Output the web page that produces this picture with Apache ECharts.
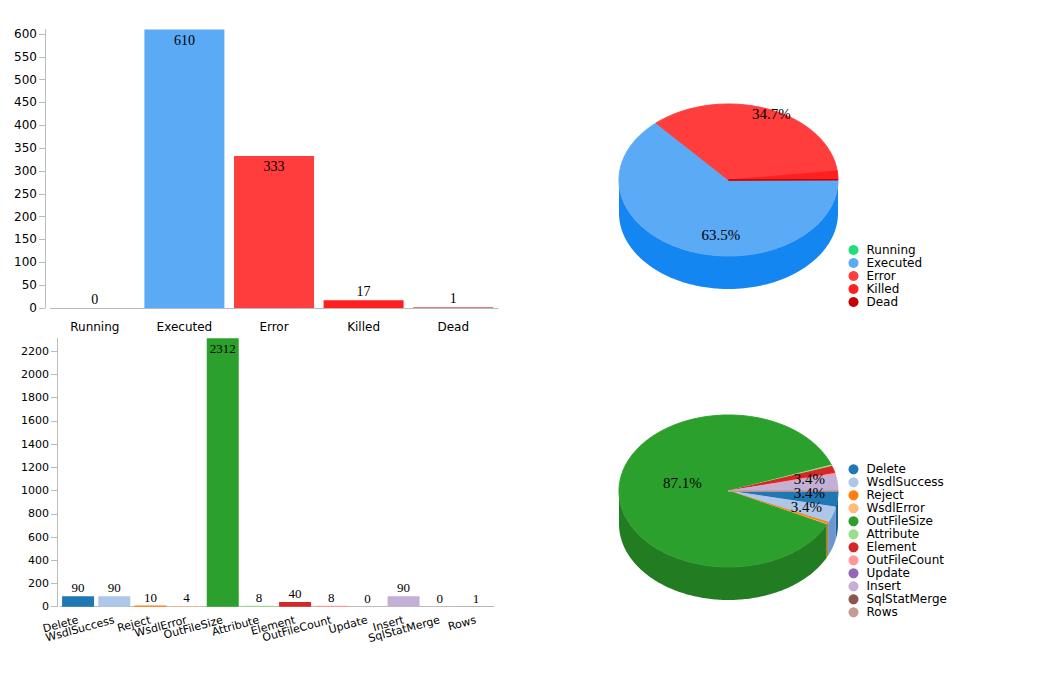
<!DOCTYPE html>
<html>
<head>
<meta charset="utf-8">
<title>Status</title>
<script src="https://cdn.jsdelivr.net/npm/echarts@6/dist/echarts.min.js"></script>
<style>
html, body { margin: 0; padding: 0; background: #fff; }
#main { width: 1048px; height: 675px; }
</style>
</head>
<body>
<div id="main"></div>
<script>
// job states
var statusNames = ['Running', 'Executed', 'Error', 'Killed', 'Dead'];
var statusValues = [0, 610, 333, 17, 1];
var statusColors = ['#1ee07a', '#5aaaf5', '#ff3d3d', '#ff1f1f', '#c40000'];

// check types
var checkNames = ['Delete', 'WsdlSuccess', 'Reject', 'WsdlError', 'OutFileSize', 'Attribute', 'Element', 'OutFileCount', 'Update', 'Insert', 'SqlStatMerge', 'Rows'];
var checkValues = [90, 90, 10, 4, 2312, 8, 40, 8, 0, 90, 0, 1];
var checkColors = ['#1f77b4', '#aec7e8', '#ff7f0e', '#ffbb78', '#2ca02c', '#98df8a', '#d62728', '#ff9896', '#9467bd', '#c5b0d5', '#8c564b', '#c49c94'];

var axisGray = '#bbb';
var sansFont = '"DejaVu Sans", Verdana, sans-serif';
var serifFont = '"Liberation Serif", "Times New Roman", serif';

/* same as d3.hsl(c).darker(k) */
function darker(hex, k) {
	var r = parseInt(hex.substr(1, 2), 16) / 255,
		g = parseInt(hex.substr(3, 2), 16) / 255,
		b = parseInt(hex.substr(5, 2), 16) / 255;
	var max = Math.max(r, g, b), min = Math.min(r, g, b), d = max - min;
	var h = 0, s = 0, l = (max + min) / 2;
	if (d) {
		s = l < 0.5 ? d / (max + min) : d / (2 - max - min);
		if (max === r) h = (g - b) / d + (g < b ? 6 : 0);
		else if (max === g) h = (b - r) / d + 2;
		else h = (r - g) / d + 4;
		h *= 60;
	}
	l *= Math.pow(0.7, k);
	var m2 = l <= 0.5 ? l * (1 + s) : l + s - l * s, m1 = 2 * l - m2;
	function v(hh) {
		hh = ((hh % 360) + 360) % 360;
		var c = hh < 60 ? m1 + (m2 - m1) * hh / 60 : hh < 180 ? m2 : hh < 240 ? m1 + (m2 - m1) * (240 - hh) / 60 : m1;
		return Math.round(c * 255);
	}
	return 'rgb(' + v(h + 120) + ',' + v(h) + ',' + v(h - 120) + ')';
}

/* value -> [value, startAngle, endAngle], angles from 3 o'clock, clockwise */
function pieLayout(values) {
	var total = values.reduce(function (a, b) { return a + b; }, 0), a = 0;
	return values.map(function (v) {
		var s = a;
		a += v / total * Math.PI * 2;
		return [v, s, a];
	});
}

function arcPoints(p, a0, a1, dy) {
	var n = Math.max(2, Math.ceil(Math.abs(a1 - a0) / (Math.PI / 180)) + 1), pts = [];
	for (var k = 0; k < n; k++) {
		var a = a0 + (a1 - a0) * k / (n - 1);
		pts.push([p.cx + p.rx * Math.cos(a), p.cy + p.ry * Math.sin(a) + dy]);
	}
	return pts;
}

/* 3d pie, drawn like Donut3D: outer wall, top, label, plus legend row */
function pie3d(p, names, colors) {
	return function (params, api) {
		var i = params.dataIndex;
		var s = api.value(1), e = api.value(2);
		var children = [];
		var ws = Math.min(s, Math.PI), we = Math.min(e, Math.PI);
		if (we > ws) {
			children.push({
				type: 'polygon', z2: 1,
				shape: { points: arcPoints(p, ws, we, 0).concat(arcPoints(p, we, ws, p.h)) },
				style: { fill: darker(colors[i], 0.7) }
			});
		}
		if (e > s) {
			children.push({
				type: 'polygon', z2: 10,
				shape: { points: [[p.cx, p.cy]].concat(arcPoints(p, s, e, 0)) },
				style: { fill: colors[i], stroke: colors[i], lineWidth: 1 }
			});
		}
		if (e - s > 0.2) {
			var mid = (s + e) / 2;
			children.push({
				type: 'text', z2: 20,
				x: p.cx + 0.6 * p.rx * Math.cos(mid),
				y: p.cy + 0.6 * p.rx * Math.sin(mid) - 4.5,
				style: {
					text: Math.round(1000 * (e - s) / (Math.PI * 2)) / 10 + '%',
					fill: '#000', font: '15px ' + serifFont,
					align: 'left', verticalAlign: 'middle'
				}
			});
		}
		// legend
		children.push({
			type: 'circle', z2: 20,
			shape: { cx: p.legendX, cy: p.legendY + i * 13, r: 5 },
			style: { fill: colors[i] }
		});
		children.push({
			type: 'text', z2: 20,
			x: p.legendX + 13, y: p.legendY + i * 13,
			style: {
				text: names[i], fill: '#000', font: '12px ' + sansFont,
				align: 'left', verticalAlign: 'middle'
			}
		});
		return { type: 'group', children: children };
	};
}

function barData(values, colors, max) {
	return values.map(function (v, i) {
		var inside = v > max * 0.2;
		return {
			value: v,
			itemStyle: { color: colors[i] },
			label: { position: inside ? 'insideTop' : 'top', distance: inside ? 4 : 2 }
		};
	});
}

var statusMax = Math.max.apply(null, statusValues);
var checkMax = Math.max.apply(null, checkValues);

var myEcharts = echarts.init(document.getElementById('main'), null, { renderer: 'svg' });
var option = {
	animation: false,
	grid: [
		{ left: 50, width: 448, top: 29.4, height: 278.6 },
		{ left: 60, width: 434, top: 338.3, height: 268.4 }
	],
	xAxis: [
		{
			type: 'category', gridIndex: 0, data: statusNames,
			axisLine: { lineStyle: { color: axisGray } },
			axisTick: { alignWithLabel: true, length: 6, lineStyle: { color: axisGray } },
			axisLabel: { color: '#000', fontFamily: sansFont, fontSize: 12, margin: 13 }
		},
		{
			type: 'category', gridIndex: 1, data: checkNames,
			axisLine: { lineStyle: { color: axisGray } },
			axisTick: { alignWithLabel: true, length: 6, lineStyle: { color: axisGray } },
			axisLabel: { color: '#000', fontFamily: sansFont, fontSize: 11, margin: 13, rotate: 15, interval: 0 }
		}
	],
	yAxis: [
		{
			type: 'value', gridIndex: 0, min: 0, max: statusMax, interval: 50, offset: 5,
			splitLine: { show: false },
			axisLine: { show: true, lineStyle: { color: axisGray } },
			axisTick: { show: true, length: 6, lineStyle: { color: axisGray } },
			axisLabel: { color: '#000', fontFamily: sansFont, fontSize: 12, margin: 8, showMaxLabel: false }
		},
		{
			type: 'value', gridIndex: 1, min: 0, max: checkMax, interval: 200, offset: 3,
			splitLine: { show: false },
			axisLine: { show: true, lineStyle: { color: axisGray } },
			axisTick: { show: true, length: 6, lineStyle: { color: axisGray } },
			axisLabel: {
				color: '#000', fontFamily: sansFont, fontSize: 11, margin: 8, showMaxLabel: false,
				formatter: function (v) { return String(v); }
			}
		}
	],
	series: [
		{
			type: 'bar', xAxisIndex: 0, yAxisIndex: 0, barWidth: 80,
			data: barData(statusValues, statusColors, statusMax),
			label: { show: true, color: '#000', fontFamily: serifFont, fontSize: 14 }
		},
		{
			type: 'bar', xAxisIndex: 1, yAxisIndex: 1, barWidth: 32,
			data: barData(checkValues, checkColors, checkMax),
			label: { show: true, color: '#000', fontFamily: serifFont, fontSize: 13 }
		},
		{
			type: 'custom', coordinateSystem: 'none',
			renderItem: pie3d({ cx: 728.5, cy: 180, rx: 109.5, ry: 76, h: 33, legendX: 853.5, legendY: 250 }, statusNames, statusColors),
			data: pieLayout(statusValues)
		},
		{
			type: 'custom', coordinateSystem: 'none',
			renderItem: pie3d({ cx: 728.5, cy: 491, rx: 109.5, ry: 76, h: 33, legendX: 853.5, legendY: 469.3 }, checkNames, checkColors),
			data: pieLayout(checkValues)
		}
	]
};
myEcharts.setOption(option);
</script>
</body>
</html>
